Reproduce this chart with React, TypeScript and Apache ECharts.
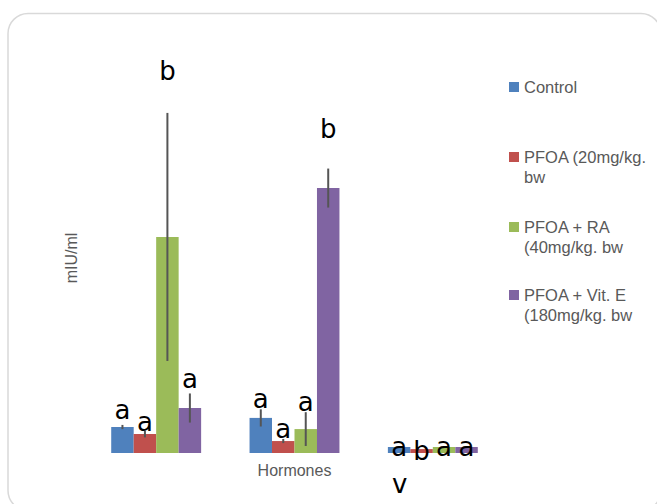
import React, { useEffect, useRef } from "react";
import * as echarts from "echarts";

const categories = ["Group 1", "Group 2", "Group 3"];
const seriesNames = [
  "Control",
  "PFOA (20mg/kg. bw",
  "PFOA + RA (40mg/kg. bw",
  "PFOA + Vit. E (180mg/kg. bw",
];
const legendLines = [
  "Control",
  "PFOA (20mg/kg.\nbw",
  "PFOA + RA\n(40mg/kg. bw",
  "PFOA + Vit. E\n(180mg/kg. bw",
];
const colors = ["#4F81BD", "#C0504D", "#9BBB59", "#8064A2"];

const controlValues = [1.0, 1.35, 0.23];
const pfoaValues = [0.73, 0.46, 0.15];
const raValues = [8.31, 0.92, 0.23];
const vitEValues = [1.73, 10.19, 0.23];

const controlErrors = [0.08, 0.33, 0];
const pfoaErrors = [0.13, 0.08, 0];
const raErrors = [4.77, 0.65, 0];
const vitEErrors = [0.56, 0.75, 0];

const controlLetters = ["a", "a", "a"];
const pfoaLetters = ["a", "a", "b"];
const raLetters = ["b", "a", "a"];
const vitELetters = ["a", "b", "a"];

const controlLetterY = [1.65, 2.08, 0.23];
const pfoaLetterY = [1.19, 0.92, 0.08];
const raLetterY = [14.69, 1.96, 0.23];
const vitELetterY = [2.85, 12.46, 0.23];

const allValues = [controlValues, pfoaValues, raValues, vitEValues];
const allErrors = [controlErrors, pfoaErrors, raErrors, vitEErrors];
const allLetters = [controlLetters, pfoaLetters, raLetters, vitELetters];
const allLetterY = [controlLetterY, pfoaLetterY, raLetterY, vitELetterY];

const legendTops = [77, 127, 197, 265];
const FONT = "'Liberation Sans', Arial, sans-serif";
const LETTER_FONT = "'DejaVu Sans', sans-serif";

export default function App() {
  const ref = useRef<HTMLDivElement>(null);
  useEffect(() => {
    document.body.style.margin = "0";
    if (!ref.current) return;
    const chart = echarts.init(ref.current, null, { renderer: "svg" });

    const barSeries = seriesNames.map((name, s) => ({
      name,
      type: "bar",
      data: allValues[s],
      barGap: "0%",
      barCategoryGap: "35%",
      itemStyle: { color: colors[s] },
      z: 2,
    }));

    const customSeries = seriesNames.map((name, s) => ({
      type: "custom",
      name: "err-" + s,
      z: 5,
      clip: false,
      data: categories.map((_, i) => [i, allValues[s][i], allErrors[s][i], allLetterY[s][i]]),
      renderItem: (params: any, api: any) => {
        const cat = api.value(0);
        const val = api.value(1);
        const err = api.value(2);
        const ly = api.value(3);
        const band = api.size([1, 0])[0];
        const barW = (band * 0.65) / 4;
        const x = api.coord([cat, 0])[0] + (s - 1.5) * barW;
        const children: any[] = [];
        if (err > 0) {
          const top = api.coord([cat, val + err])[1];
          const bot = api.coord([cat, Math.max(val - err, 0)])[1];
          children.push({
            type: "line",
            shape: { x1: x, y1: top, x2: x, y2: bot },
            style: { stroke: "#555555", lineWidth: 2 },
          });
        }
        children.push({
          type: "text",
          x,
          y: api.coord([cat, ly])[1],
          style: {
            text: allLetters[s][params.dataIndex],
            fill: "#000000",
            fontSize: 26,
            fontFamily: LETTER_FONT,
            align: "center",
            verticalAlign: "middle",
          },
        });
        return { type: "group", children };
      },
    }));

    const legends = seriesNames.map((name, s) => {
      const multi = legendLines[s].includes("\n");
      return {
        show: true,
        data: [name],
        orient: "vertical",
        left: 509,
        top: legendTops[s],
        padding: 0,
        itemWidth: 10,
        itemHeight: 10,
        icon: "rect",
        selectedMode: false,
        formatter: () => (multi ? " \n" + legendLines[s] : legendLines[s]),
        textStyle: {
          fontSize: 16.5,
          color: "#595959",
          fontFamily: FONT,
          lineHeight: 20,
        },
      };
    });

    chart.setOption({
      animation: false,
      backgroundColor: "#ffffff",
      grid: { left: 87, right: 155, top: 63, bottom: 51 },
      legend: legends,
      xAxis: {
        type: "category",
        data: categories,
        axisLine: { show: false },
        axisTick: { show: false },
        axisLabel: { show: false },
        name: "Hormones",
        nameLocation: "middle",
        nameGap: 9,
        nameTextStyle: { fontSize: 16, color: "#595959", fontFamily: FONT },
      },
      yAxis: {
        type: "value",
        min: 0,
        max: 15,
        axisLine: { show: false },
        axisTick: { show: false },
        axisLabel: { show: false },
        splitLine: { show: false },
        name: "mIU/ml",
        nameLocation: "middle",
        nameGap: 8,
        nameTextStyle: { fontSize: 16, color: "#595959", fontFamily: FONT },
      },
      graphic: [
        {
          type: "rect",
          shape: { x: 8, y: 13.5, width: 653, height: 497, r: 20 },
          style: { fill: "none", stroke: "#d9d9d9", lineWidth: 1.5 },
          z: 0,
          silent: true,
        },
        {
          type: "text",
          x: 392,
          y: 483.5,
          style: {
            text: "v",
            fill: "#000000",
            fontSize: 26,
            fontFamily: LETTER_FONT,
            align: "left",
            verticalAlign: "middle",
          },
        },
      ],
      series: [...barSeries, ...customSeries],
    });
    return () => chart.dispose();
  }, []);
  return <div ref={ref} style={{ width: 657, height: 504 }} />;
}
